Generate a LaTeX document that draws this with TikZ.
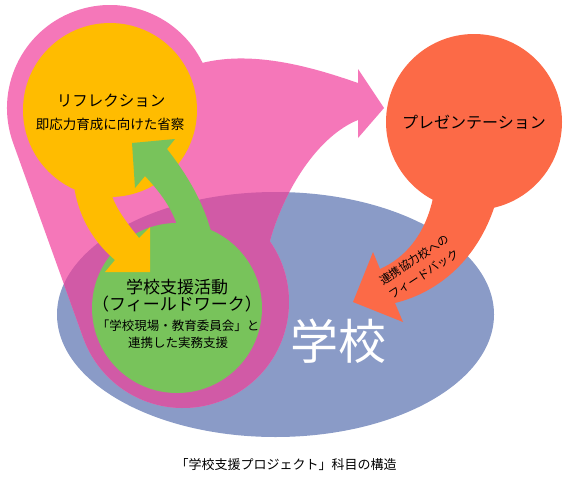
\documentclass[tikz,border=0pt]{standalone}
\usepackage{fontspec}
\setmainfont{Noto Sans CJK JP}
\usetikzlibrary{calc}
\definecolor{loopPink}{HTML}{F577B9}
\definecolor{loopDeep}{HTML}{D15AA6}
\definecolor{schoolBlue}{HTML}{8A9BC7}
\definecolor{reflYellow}{HTML}{FFBC00}
\definecolor{fieldGreen}{HTML}{78C35B}
\definecolor{presRed}{HTML}{FC6A47}
\newcommand{\fsz}[1]{\fontsize{#1}{#1}\selectfont}
% pink loop: ring round the two circles, ending in the arrow to the presentation
\newcommand{\loopblob}{(384,108) -- (358,138) -- (358,120)
  .. controls (318,136) and (284,190) .. ([shift={(-35:106)}]183,302)
  arc[start angle=-35,end angle=160,radius=106]
  -- ([shift={(160:103)}]110,108)
  arc[start angle=160,end angle=334,radius=103]
  .. controls (255,50) and (315,68) .. (358,83) -- (358,69) -- cycle}

\begin{document}
\begin{tikzpicture}[x=1pt,y=-1pt,
  disc/.style={circle,inner sep=0pt,minimum size=#1},
  lbl/.style={font=\fsz{#1},inner sep=0pt}]
\useasboundingbox (0,0) rectangle (570,485);
\fill[schoolBlue] (275.5,314.5) ellipse [x radius=218.5,y radius=122.5];
\fill[loopPink] \loopblob;
\begin{scope}
  \clip (275.5,314.5) ellipse [x radius=218.5,y radius=122.5];
  \fill[loopDeep] \loopblob;
\end{scope}
\node[disc=170pt,fill=fieldGreen] (field) at (177,308) {};
\node[disc=174pt,fill=reflYellow] (refl) at (110,110) {};
\node[disc=176pt,fill=presRed] (pres) at (474,122) {};
% tails
\fill[reflYellow] (refl.246) .. controls (80,220) and (95,243) .. (115,260)
  -- (105,272) -- (150,272) -- (150,227) -- (139,238)
  .. controls (126,222) and (116,208) .. (112,196) -- cycle;
\fill[fieldGreen] (178,228) .. controls (172,208) and (160,192) .. (145,176)
  -- (135,188) -- (132,143) -- (175,139) -- (167,149)
  .. controls (185,172) and (203,200) .. (212,235) -- cycle;
\fill[presRed] (433,198) .. controls (425,235) and (405,258) .. (380,269)
  -- (373,252) -- (353,302) -- (403,322) -- (395,303)
  .. controls (440,292) and (478,258) .. (495,205) -- cycle;
% texts
\node[lbl=15.5] (refltitle) at (111,101) {リフレクション};
\node[lbl=13.5] (reflsub) at (110,124) {即応力育成に向けた省察};
\node[lbl=16] (prestitle) at (pres) {プレゼンテーション};
\node[lbl=17] (fieldtitle) at (177,287) {学校支援活動};
\node[lbl=17] (fieldsub) at (177,304) {（フィールドワーク）};
\node[lbl=12.5] (fieldnote) at (178,326) {「学校現場・教育委員会」と};
\node[lbl=12.5] (fieldnote2) at (178,343) {連携した実務支援};
\node[font=\fontsize{11.5}{17}\selectfont,align=center,rotate=33,inner sep=0pt] (feedback) at (419,267) {連携協力校への\\フィードバック};
\node[lbl=48,text=white] (school) at (338,341) {学校};
\node[lbl=13] (caption) at (286,465) {「学校支援プロジェクト」科目の構造};
\end{tikzpicture}
\end{document}
